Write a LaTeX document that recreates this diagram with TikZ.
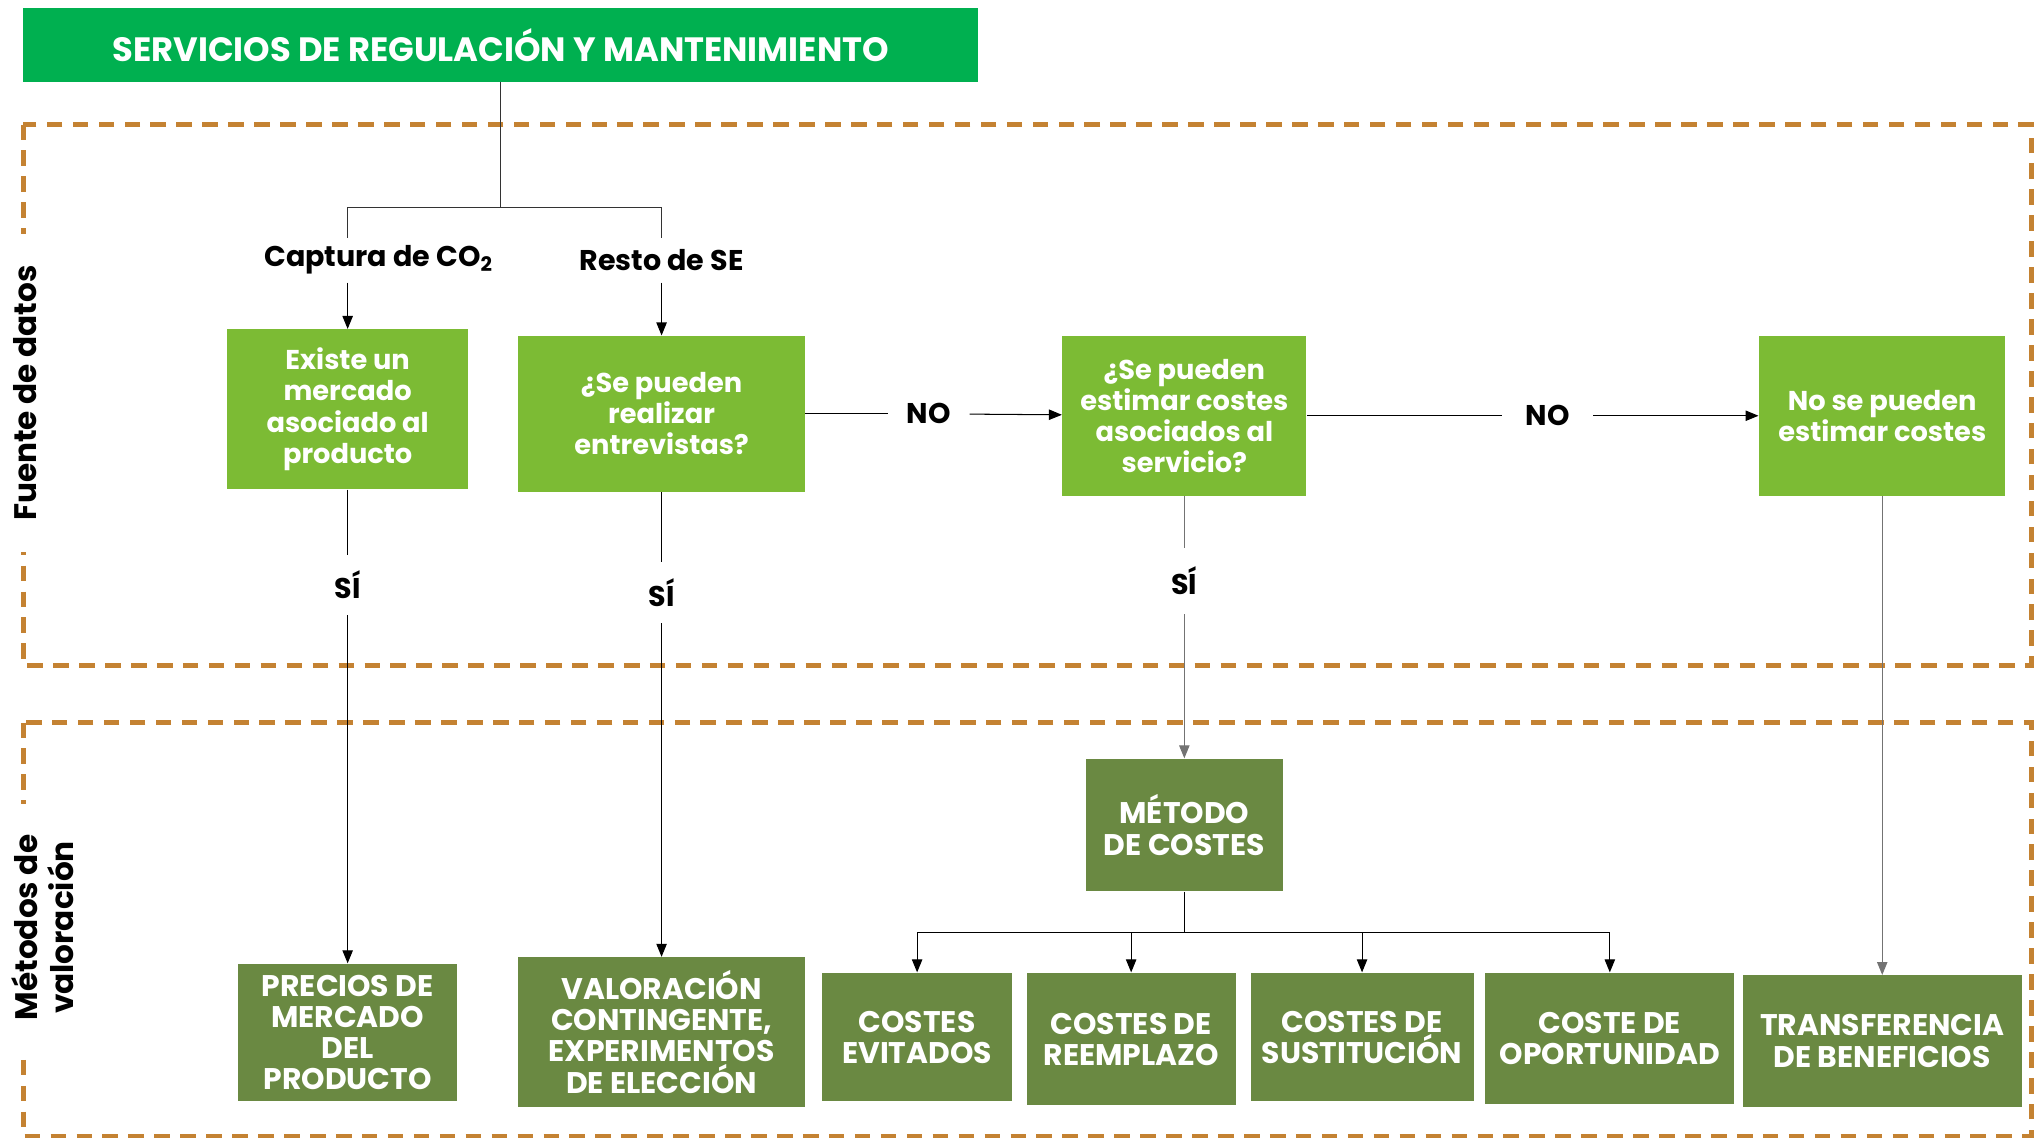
\documentclass[tikz,border=0pt]{standalone}
\usepackage{fontspec}
\setmainfont{Poppins}
\usetikzlibrary{arrows.meta}

\definecolor{titlegreen}{RGB}{0,176,80}
\definecolor{qgreen}{RGB}{124,187,52}
\definecolor{mgreen}{RGB}{106,137,66}
\definecolor{zonebrown}{RGB}{196,130,50}

\begin{document}
\begin{tikzpicture}
  [x=0.5pt,y=-0.5pt,
   qbox/.style={fill=qgreen,text=white,align=center,inner sep=2pt,
     font=\bfseries\fontsize{10.5}{12}\selectfont},
   mbox/.style={fill=mgreen,text=white,align=center,inner sep=2pt,
     font=\bfseries\fontsize{11.5}{12}\selectfont},
   lbl/.style={inner sep=0pt,font=\bfseries\fontsize{11}{13}\selectfont},
   cut/.style={lbl,minimum height=23pt,minimum width=31pt},
   side/.style={rotate=90,fill=white,align=center,inner xsep=12pt,inner ysep=1pt,
     font=\bfseries\fontsize{12}{14}\selectfont},
   zone/.style={draw=zonebrown,line width=1.8pt,dash pattern=on 6pt off 4pt},
   arr/.style={-{Triangle[length=5pt,width=4pt]}}]
  \useasboundingbox (0,0) rectangle (1568,877);

  % zones
  \draw[zone] (18,96) rectangle (1566,513);
  \draw[zone] (18,557) rectangle (1566,876);
  \node[side] (fuente) at (19,303) {Fuente de datos};
  \node[side] (metodos) at (33,715) {Métodos de\\valoración};

  % top
  \node[fill=titlegreen,text=white,minimum width=368pt,minimum height=28.5pt,
    font=\bfseries\fontsize{13}{15}\selectfont] (title) at (386,34.5)
    {SERVICIOS DE REGULACIÓN Y MANTENIMIENTO};
  \node[lbl,minimum height=17pt] (cap) at (292,200.5) {Captura de CO\textsubscript{2}};
  \node[lbl,minimum height=17pt] (resto) at (510,200.5) {Resto de SE};

  % questions
  \node[qbox,minimum width=93pt,minimum height=61.5pt] (b1) at (268,315.5)
    {Existe un\\mercado\\asociado al\\producto};
  \node[qbox,minimum width=110.5pt,minimum height=60pt] (b2) at (510,319)
    {¿Se pueden\\realizar\\entrevistas?};
  \node[qbox,minimum width=94pt,minimum height=61.5pt] (b3) at (913,320.5)
    {¿Se pueden\\estimar costes\\asociados al\\servicio?};
  \node[qbox,minimum width=95pt,minimum height=61.5pt] (b4) at (1451,320.5)
    {No se pueden\\estimar costes};

  \node[cut] (no1) at (716,319) {NO};
  \node[cut,minimum width=35pt] (no2) at (1193,320.5) {NO};
  \node[cut] (si1) at (268,451) {SÍ};
  \node[cut] (si2) at (510,457) {SÍ};
  \node[cut,minimum height=25pt] (si3) at (913,448) {SÍ};

  % methods
  \node[mbox,minimum width=76pt,minimum height=51pt] (met) at (913,636)
    {MÉTODO\\DE COSTES};
  \node[mbox,minimum width=84.5pt,minimum height=53pt] (p1) at (268,796)
    {PRECIOS DE\\MERCADO\\DEL\\PRODUCTO};
  \node[mbox,minimum width=110.5pt,minimum height=57.5pt] (p2) at (510,795.5)
    {VALORACIÓN\\CONTINGENTE,\\EXPERIMENTOS\\DE ELECCIÓN};
  \node[mbox,minimum width=73pt,minimum height=49.5pt] (p3) at (707,799.5)
    {COSTES\\EVITADOS};
  \node[mbox,minimum width=80.5pt,minimum height=51pt] (p4) at (872,801)
    {COSTES DE\\REEMPLAZO};
  \node[mbox,minimum width=86pt,minimum height=49.5pt] (p5) at (1050,799.5)
    {COSTES DE\\SUSTITUCIÓN};
  \node[mbox,minimum width=96pt,minimum height=50.5pt] (p6) at (1241,800.5)
    {COSTE DE\\OPORTUNIDAD};
  \node[mbox,minimum width=107.5pt,minimum height=50.5pt] (p7) at (1451,802.5)
    {TRANSFERENCIA\\DE BENEFICIOS};

  % connectors
  \coordinate (split) at (title.south |- 0,160);
  \draw[black!80] (title) -- (split);
  \draw[black!80] (b1.north |- cap.north) |- (split) -| (b2.north |- resto.north);
  \draw[arr] (b1.north |- cap.south) -- (b1);
  \draw[arr] (b2.north |- resto.south) -- (b2);
  \foreach \from/\to in {b2/no1,b3/no2,b1/si1,b2/si2}
    \draw (\from) -- (\to);
  \foreach \from/\to in {no1/b3,no2/b4,si1/p1,si2/p2}
    \draw[arr] (\from) -- (\to);
  \draw[black!55] (b3) -- (si3);
  \draw[black!55,arr] (si3) -- (met);
  \draw[black!55,arr] (b4) -- (p7);
  \coordinate (fork) at (met.south |- 0,719);
  \draw (met) -- (fork);
  \foreach \to in {p3,p4,p5,p6}
    \draw[arr] (fork) -| (\to);
\end{tikzpicture}
\end{document}
